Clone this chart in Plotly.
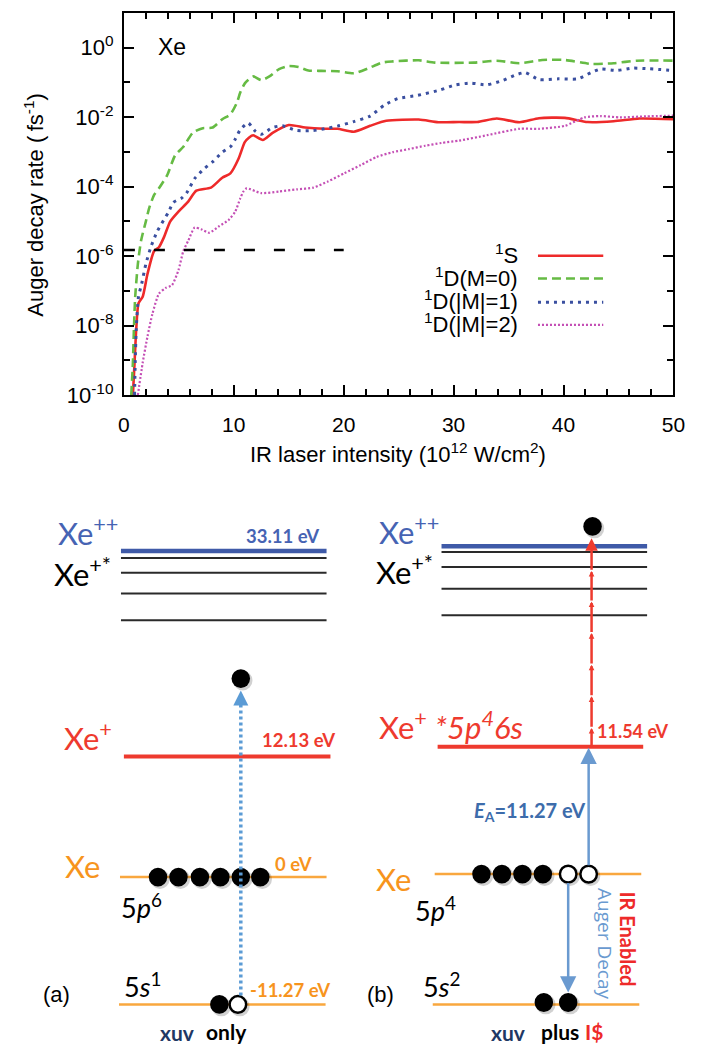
import plotly.graph_objects as go

W, H = 701, 1055

# ---------------- data: Auger decay rate vs IR intensity ----------------
s1_x = [0.82, 0.97, 1.12, 1.33, 1.71, 2.15, 2.75, 3.19, 3.63, 4.22, 4.96, 5.85, 6.59, 7.92, 8.95, 9.69,
        10.43, 11.0, 11.4, 11.76, 12.64, 13.53, 15.0, 16.49, 18.26, 19.44, 20.92, 22.4, 23.87, 26.83,
        28.6, 30.5, 32.15, 33.92, 35.99, 37.77, 40.12, 42.2, 44.56, 46.92, 50.0]
s1_y = [1e-10, 8.5e-10, 7.6e-9, 4.4e-8, 6.8e-8, 3.1e-7, 1.4e-6, 1.8e-6, 3.4e-6, 1e-5, 1.9e-5, 3.7e-5,
        7.6e-5, 9.3e-5, 1.8e-4, 2.4e-4, 6.3e-4, 1.9e-3, 2.6e-3, 3.0e-3, 2.2e-3, 3.5e-3, 5.9e-3, 5.0e-3,
        4.6e-3, 4.6e-3, 3.8e-3, 5.6e-3, 7.8e-3, 8.5e-3, 7.1e-3, 7.2e-3, 7.2e-3, 9.1e-3, 7.1e-3, 9.3e-3,
        9.5e-3, 7.2e-3, 7.6e-3, 9.1e-3, 8.7e-3]

d0_x = [0.67, 0.82, 0.91, 1.03, 1.27, 1.56, 2.0, 2.3, 2.75, 3.19, 3.93, 4.66, 5.41, 6.29, 7.18, 8.07,
        8.95, 9.69, 10.28, 10.58, 11.02, 11.76, 12.5, 13.24, 14.12, 15.0, 15.9, 16.78, 17.96, 19.44,
        20.92, 22.2, 23.5, 24.47, 26.83, 28.3, 31.86, 33.92, 35.99, 38.06, 40.12, 42.49, 44.56, 46.63, 50.0]
d0_y = [1e-10, 8.5e-10, 7.6e-9, 6.8e-8, 5.9e-7, 2.75e-6, 1e-5, 2.4e-5, 5.75e-5, 8.9e-5, 2.1e-4, 7.9e-4,
        1.4e-3, 3.6e-3, 4.8e-3, 5.0e-3, 8.7e-3, 1.2e-2, 2.6e-2, 5.0e-2, 9.5e-2, 0.148, 0.115, 0.148,
        0.24, 0.295, 0.275, 0.22, 0.214, 0.209, 0.182, 0.25, 0.37, 0.40, 0.43, 0.37, 0.37, 0.42, 0.355,
        0.44, 0.44, 0.34, 0.355, 0.42, 0.42]

d1_x = [0.97, 1.03, 1.12, 1.33, 1.62, 2.0, 2.45, 3.04, 4.08, 4.5, 5.26, 5.70, 6.44, 7.32, 8.07, 8.95,
        9.69, 10.13, 10.58, 11.31, 11.9, 12.5, 13.53, 14.42, 15.74, 17.23, 18.26, 19.44, 20.92, 22.4,
        23.7, 24.9, 26.7, 28.75, 30.08, 31.56, 33.03, 34.51, 35.69, 36.52, 37.77, 39.54, 41.31, 42.49,
        43.38, 44.86, 46.33, 47.81, 50.0]
d1_y = [1e-10, 8.5e-10, 7.6e-9, 6.8e-8, 1.6e-7, 5.9e-7, 1.8e-6, 5.2e-6, 1.9e-5, 3.5e-5, 4.7e-5, 6.5e-5,
        1.7e-4, 3.3e-4, 5.1e-4, 9.8e-4, 1.4e-3, 2.3e-3, 4.3e-3, 6.8e-3, 4.1e-3, 3.2e-3, 5.0e-3, 5.6e-3,
        4.1e-3, 4.1e-3, 4.6e-3, 5.5e-3, 7.4e-3, 1.07e-2, 2.2e-2, 3.4e-2, 4.2e-2, 6.0e-2, 8.3e-2, 9.5e-2,
        8.5e-2, 0.115, 0.166, 0.19, 0.12, 0.126, 0.126, 0.19, 0.24, 0.22, 0.257, 0.245, 0.22]

d2_x = [1.27, 1.71, 2.15, 2.6, 3.19, 3.78, 4.37, 4.96, 5.41, 5.85, 6.44, 7.03, 7.77, 8.65, 9.54, 10.13,
        10.58, 10.87, 11.17, 12.5, 14.12, 15.74, 17.23, 18.56, 20.04, 21.51, 22.99, 24.47, 25.94, 27.42,
        28.9, 30.5, 33.03, 35.99, 37.77, 40.12, 41.9, 43.38, 45.15, 47.51, 50.0]
d2_y = [1e-10, 8.5e-10, 4.9e-9, 2.2e-8, 8.3e-8, 1.2e-7, 1.45e-7, 3.9e-7, 1.4e-6, 2.75e-6, 6.6e-6, 5.9e-6,
        4.7e-6, 7.2e-6, 1.1e-5, 1.9e-5, 4.5e-5, 7.2e-5, 8.9e-5, 6.5e-5, 7.2e-5, 8.3e-5, 9.3e-5, 1.4e-4,
        2.4e-4, 4.1e-4, 7.1e-4, 9.8e-4, 1.2e-3, 1.5e-3, 1.8e-3, 2.1e-3, 3.0e-3, 4.6e-3, 4.6e-3, 5.6e-3,
        9.8e-3, 1.07e-2, 9.8e-3, 1.05e-2, 1.1e-2]

ref_x = [0, 20]
ref_y = [1.5e-6, 1.5e-6]

x_ticks = [0, 10, 20, 30, 40, 50]
x_minor = [2, 4, 6, 8, 12, 14, 16, 18, 22, 24, 26, 28, 32, 34, 36, 38, 42, 44, 46, 48]
y_ticks = [1, 1e-2, 1e-4, 1e-6, 1e-8, 1e-10]
y_tick_text = ["10<sup>0</sup>", "10<sup>-2</sup>", "10<sup>-4</sup>", "10<sup>-6</sup>",
               "10<sup>-8</sup>", "10<sup>-10</sup>"]
y_minor = [1e-1, 1e-3, 1e-5, 1e-7, 1e-9]

series_names = ["<sup>1</sup>S", "<sup>1</sup>D(M=0)", "<sup>1</sup>D(|M|=1)", "<sup>1</sup>D(|M|=2)"]
series_colors = ["#EE2A2A", "#66BB44", "#3A4FA0", "#C44FB5"]
series_dash = ["solid", "9px,5px", "3px,5px", "2px,2px"]
series_width = [2.6, 2.6, 3.0, 2.2]

# ---------------- energy-level diagram content ----------------
lbl_a = {"xepp": "33.11 eV", "xep": "12.13 eV", "xe": "0 eV", "s": "-11.27 eV"}
lbl_b = {"xep": "11.54 eV", "ea": "11.27 eV"}

SANS = "Liberation Sans"
LATO = "Lato, Open Sans, sans-serif"

fig = go.Figure()
xs = [s1_x, d0_x, d1_x, d2_x]
ys = [s1_y, d0_y, d1_y, d2_y]
for i in range(4):
    fig.add_trace(go.Scatter(x=xs[i], y=ys[i], mode="lines", showlegend=False,
                             line=dict(color=series_colors[i], width=series_width[i], dash=series_dash[i],
                                       shape="spline", smoothing=0.6)))
fig.add_trace(go.Scatter(x=ref_x, y=ref_y, mode="lines", showlegend=False,
                         line=dict(color="black", width=2.5, dash="11px,19px")))

shapes = []
annotations = []


def px(x):
    return x / W


def py(y):
    return 1 - y / H


def hline(x0, x1, y, color, width, dash="solid"):
    shapes.append(dict(type="line", xref="paper", yref="paper", x0=px(x0), x1=px(x1), y0=py(y), y1=py(y),
                       line=dict(color=color, width=width, dash=dash)))


def vline(x, y0, y1, color, width, dash="solid"):
    shapes.append(dict(type="line", xref="paper", yref="paper", x0=px(x), x1=px(x), y0=py(y0), y1=py(y1),
                       line=dict(color=color, width=width, dash=dash)))


def dot(x, y, r=9.5, filled=True):
    shapes.append(dict(type="circle", xref="paper", yref="paper", x0=px(x - r + 1.5), x1=px(x + r + 2.5),
                       y0=py(y + r + 2.5), y1=py(y - r + 1.5), fillcolor="rgba(0,0,0,0.18)",
                       line=dict(width=0)))
    if filled:
        shapes.append(dict(type="circle", xref="paper", yref="paper", x0=px(x - r), x1=px(x + r),
                           y0=py(y + r), y1=py(y - r), fillcolor="black", line=dict(width=0)))
    else:
        rr = r - 1
        shapes.append(dict(type="circle", xref="paper", yref="paper", x0=px(x - rr), x1=px(x + rr),
                           y0=py(y + rr), y1=py(y - rr), fillcolor="white", line=dict(color="black", width=2.5)))


def text(x, y, s, size, color="black", family=LATO, xanchor="center", yanchor="middle", angle=0):
    annotations.append(dict(xref="paper", yref="paper", x=px(x), y=py(y), text=s, showarrow=False,
                            font=dict(size=size, color=color, family=family), xanchor=xanchor,
                            yanchor=yanchor, textangle=angle, borderpad=0))


def arrow(xh, yh, xt, yt, color, width, size):
    annotations.append(dict(xref="paper", yref="paper", x=px(xh), y=py(yh), ax=xt - xh, ay=yt - yh,
                            axref="pixel", ayref="pixel", text="", showarrow=True, arrowhead=2,
                            arrowsize=size, arrowwidth=width, arrowcolor=color, standoff=0, startstandoff=0))


# ---- top plot extras: legend, title labels ----
legend_y = [259, 282, 306, 329]
for i in range(4):
    text(527, legend_y[i] - 2, series_names[i], 22, family=SANS, xanchor="right")
    hline(546, 613, legend_y[i], series_colors[i], series_width[i], series_dash[i])
text(170, 48, "Xe", 23, family=SANS)
text(29, 207, "Auger decay rate (\u2009fs<sup>-1</sup>)", 22, family=SANS, angle=-90)
text(402, 459, "IR laser intensity (10<sup>12</sup> W/cm<sup>2</sup>)", 22, family=SANS)

BLUE = "#3F5AA8"
RED = "#EE3A2E"
ORANGE = "#F9A73E"
ORANGE_T = "#F7941D"
NAVY = "#1F3864"
LBLUE = "#6A9AD0"
EV = 18.5

# ---- panel (a) ----
hline(118, 329, 558, BLUE, 4.5)
for yy in [565, 580, 601, 628]:
    hline(118, 329, yy, "#2a2a2a", 2)
hline(121, 333, 766, RED, 4)
hline(117, 329, 888, ORANGE, 2.5)
hline(116, 328, 1017, ORANGE, 2.5)
for xx in [156, 177, 199, 220, 241, 261]:
    dot(xx, 888)
dot(241, 687)
dot(219, 1017)
dot(238, 1017, filled=False)
vline(241, 1008, 708, "#5B9BD5", 3.5, "3px,3px")
arrow(241, 699, 241, 711, "#5B9BD5", 3, 1.0)

text(84, 538, "Xe<sup>++</sup>", 31, "#4663B3")
text(284, 543, "<b>" + lbl_a["xepp"] + "</b>", EV, "#4663B3")
text(79, 580, "Xe<sup>+*</sup>", 31, "black")
text(84, 746, "Xe<sup>+</sup>", 31, RED)
text(300, 749, "<b>" + lbl_a["xep"] + "</b>", EV, RED)
text(79, 877, "Xe", 31, ORANGE_T)
text(295, 875, "<b>" + lbl_a["xe"] + "</b>", EV, ORANGE_T)
text(139, 917, "5<i>p</i><sup>6</sup>", 27)
text(52, 1007, "(a)", 22, family=SANS)
text(140, 997, "5<i>s</i><sup>1</sup>", 27)
text(291, 1002, "<b>" + lbl_a["s"] + "</b>", EV, ORANGE_T)
text(175, 1045, "<b>xuv</b>", 21, NAVY)
text(226, 1044, "<b>only</b>", 21, "black")

# ---- panel (b) ----
hline(447, 658, 553, BLUE, 4.5)
for yy in [559, 574, 596, 623]:
    hline(447, 658, yy, "#2a2a2a", 2)
hline(443, 654, 756, RED, 4)
hline(440, 652, 885, ORANGE, 2.5)
hline(438, 650, 1017, ORANGE, 2.5)
for xx in [488, 509, 530, 551]:
    dot(xx, 885)
dot(577, 885, filled=False)
dot(598, 885, filled=False)
dot(602, 533)
dot(552, 1015)
dot(577, 1015)

arrow(598, 757, 598, 876, LBLUE, 2.5, 1.3)
arrow(577, 1005, 577, 894, LBLUE, 2.5, 1.3)
red_steps = [757, 737, 705, 673, 641, 609, 578, 545]
for i in range(len(red_steps) - 1):
    arrow(601, red_steps[i + 1], 601, red_steps[i], RED, 2.5, 0.45 if i < len(red_steps) - 2 else 1.0)

text(414, 537, "Xe<sup>++</sup>", 31, "#4663B3")
text(409, 578, "Xe<sup>+*</sup>", 31, "black")
text(457, 735, "Xe<sup>+</sup> <i>*5p<sup>4</sup>6s</i>", 31, RED)
text(644, 740, "<b>" + lbl_b["xep"] + "</b>", 18, RED)
text(537, 822, "<b><i>E</i><sub>A</sub>=" + lbl_b["ea"] + "</b>", 20, "#3D6CAB")
text(398, 890, "Xe", 31, ORANGE_T)
text(441, 920, "5<i>p</i><sup>4</sup>", 27)
text(615, 955, "Auger Decay", 19, LBLUE, family="Open Sans", angle=90)
text(638, 951, "<b>IR Enabled</b>", 20, "#EE2A2A", angle=90)
text(384, 1007, "(b)", 22, family=SANS)
text(447, 997, "5<i>s</i><sup>2</sup>", 27)
text(515, 1045, "<b>xuv</b>", 21, NAVY)
text(569, 1044, "<b>plus</b>", 21, "black")
text(604, 1044, "<b>I$</b>", 21, "#EE2A2A")

fig.update_layout(
    width=W, height=H, margin=dict(l=0, r=0, t=0, b=0),
    paper_bgcolor="white", plot_bgcolor="white", showlegend=False,
    shapes=shapes, annotations=annotations,
    xaxis=dict(domain=[121 / W, 685 / W], range=[0, 50], tickvals=x_ticks, ticks="inside", ticklen=10,
               tickwidth=1.5, tickcolor="black", showline=True, linewidth=2, linecolor="black",
               mirror="ticks", showgrid=False, zeroline=False, ticklabelstandoff=10,
               tickfont=dict(family=SANS, size=21, color="black"),
               minor=dict(tickvals=x_minor, ticks="inside", ticklen=6, tickwidth=1.5, tickcolor="black",
                          showgrid=False)),
    yaxis=dict(domain=[1 - 400 / H, 1 - 13 / H], type="log", range=[-10, 1], tickvals=y_ticks,
               ticktext=y_tick_text, ticks="inside", ticklen=10, tickwidth=1.5, tickcolor="black",
               showline=True, linewidth=2, linecolor="black", mirror="ticks", showgrid=False,
               zeroline=False, ticklabelstandoff=4,
               tickfont=dict(family=SANS, size=22, color="black"),
               minor=dict(tickvals=y_minor, ticks="inside", ticklen=6, tickwidth=1.5, tickcolor="black",
                          showgrid=False)),
)

fig.write_html("out.html")
